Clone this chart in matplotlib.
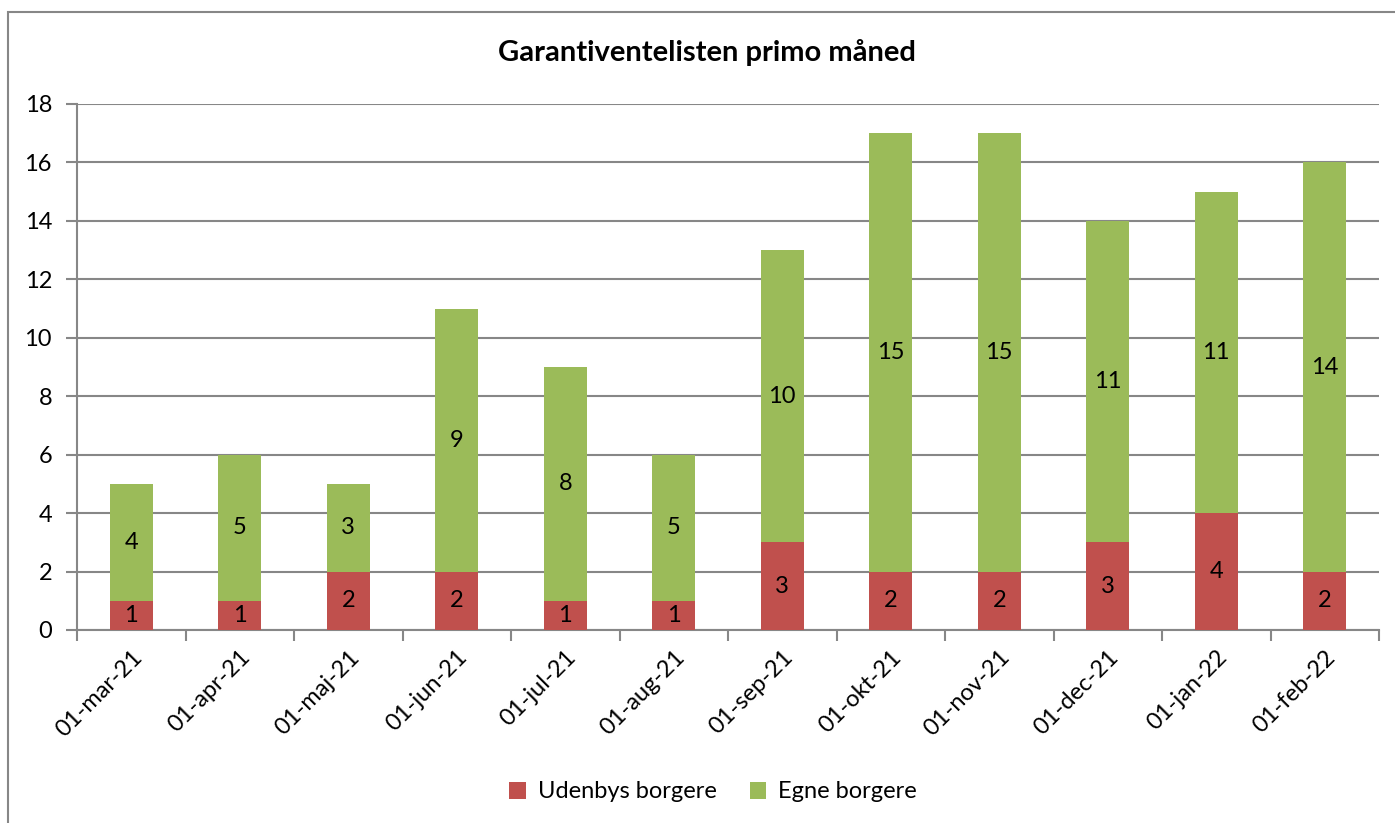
import matplotlib
matplotlib.use("Agg")
import matplotlib.pyplot as plt
from matplotlib.patches import Rectangle
import numpy as np

categories = ["01-mar-21", "01-apr-21", "01-maj-21", "01-jun-21", "01-jul-21", "01-aug-21",
              "01-sep-21", "01-okt-21", "01-nov-21", "01-dec-21", "01-jan-22", "01-feb-22"]
udenbys = [1, 1, 2, 2, 1, 1, 3, 2, 2, 3, 4, 2]
egne = [4, 5, 3, 9, 8, 5, 10, 15, 15, 11, 11, 14]
title = "Garantiventelisten primo måned"
yticks = [0, 2, 4, 6, 8, 10, 12, 14, 16, 18]

plt.rcParams['font.family'] = ['Lato', 'DejaVu Sans']

W, H = 1395, 823
fig = plt.figure(figsize=(W / 100, H / 100), dpi=100)
ax = fig.add_axes([77 / W, 1 - 630 / H, (1379 - 77) / W, (630 - 104) / H])

grid_c = "#878787"
red = "#C0504D"
green = "#9BBB59"
fs = 17

x = np.arange(len(categories))
w = 0.4
b1 = ax.bar(x, udenbys, width=w, color=red, zorder=3, label="Udenbys borgere")
b2 = ax.bar(x, egne, width=w, bottom=udenbys, color=green, zorder=3, label="Egne borgere")

for xi, u, e in zip(x, udenbys, egne):
    ax.text(xi, u / 2, str(u), ha="center", va="center", fontsize=fs, zorder=4)
    ax.text(xi, u + e / 2, str(e), ha="center", va="center", fontsize=fs, zorder=4)

ax.set_xlim(-0.5, len(categories) - 0.5)
ax.set_ylim(0, 18)
ax.set_yticks(yticks)
ax.yaxis.grid(True, color=grid_c, linewidth=1.5, zorder=0)
ax.set_axisbelow(True)
for s in ["top", "right"]:
    ax.spines[s].set_visible(False)
for s in ["left", "bottom"]:
    ax.spines[s].set_color(grid_c)
    ax.spines[s].set_linewidth(1.5)
ax.tick_params(axis="y", length=8, width=1.5, color=grid_c, labelsize=fs, pad=10)

ax.set_xticks(x)
ax.set_xticklabels(categories, rotation=45, ha="right", rotation_mode="anchor", fontsize=fs)
ax.tick_params(axis="x", length=0, pad=12)
ax.set_xticks(np.arange(-0.5, len(categories)), minor=True)
ax.tick_params(axis="x", which="minor", length=8, width=1.5, color=grid_c, direction="out")

fig.text(707 / W, 1 - 52 / H, title, ha="center", va="center", fontsize=21, fontweight="bold")

fig.legend(handles=[b1, b2], loc="center", bbox_to_anchor=(713 / W, 1 - 792 / H), ncol=2,
           frameon=False, fontsize=fs, handlelength=0.7, handleheight=0.7,
           columnspacing=1.4, handletextpad=0.5)

fig.patches.append(Rectangle((8 / W, -0.1), 1.2, 1 - 12 / H + 0.1, transform=fig.transFigure,
                             fill=False, edgecolor=grid_c, linewidth=1.5))

fig.savefig("out.png", dpi=100)
